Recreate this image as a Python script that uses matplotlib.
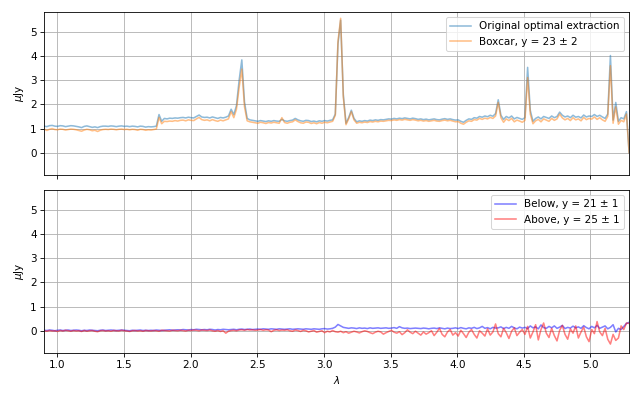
import matplotlib
matplotlib.use('Agg')
import matplotlib.pyplot as plt
import numpy as np

# wavelength sampling (micron), 220 samples across the plotted range
lam = np.linspace(0.90, 5.29, 220)

# top panel: optimal extraction vs boxcar (uJy)
optimal = [
    1.10, 1.08, 1.12, 1.13, 1.10, 1.09, 1.12, 1.11, 1.08, 1.10,
    1.12, 1.11, 1.09, 1.07, 1.04, 1.09, 1.11, 1.08, 1.05, 1.07,
    1.04, 1.08, 1.10, 1.10, 1.09, 1.11, 1.10, 1.08, 1.10, 1.11,
    1.09, 1.10, 1.08, 1.10, 1.09, 1.07, 1.10, 1.09, 1.06, 1.08,
    1.07, 1.08, 1.10, 1.58, 1.30, 1.42, 1.40, 1.43, 1.42, 1.44,
    1.43, 1.45, 1.46, 1.44, 1.47, 1.45, 1.44, 1.50, 1.56, 1.48,
    1.46, 1.47, 1.44, 1.48, 1.45, 1.42, 1.46, 1.44, 1.47, 1.52,
    1.80, 1.58, 1.95, 3.00, 3.84, 2.10, 1.42, 1.36, 1.34, 1.32,
    1.30, 1.33, 1.31, 1.29, 1.32, 1.30, 1.33, 1.31, 1.30, 1.38,
    1.32, 1.30, 1.33, 1.35, 1.42, 1.36, 1.32, 1.30, 1.34, 1.33,
    1.29, 1.31, 1.28, 1.32, 1.30, 1.33, 1.31, 1.34, 1.36, 1.60,
    4.50, 5.48, 2.40, 1.22, 1.45, 1.76, 1.42, 1.28, 1.32, 1.30,
    1.33, 1.31, 1.35, 1.33, 1.36, 1.34, 1.37, 1.36, 1.38, 1.40,
    1.39, 1.42, 1.40, 1.43, 1.41, 1.44, 1.42, 1.40, 1.43, 1.41,
    1.38, 1.40, 1.37, 1.39, 1.36, 1.38, 1.40, 1.37, 1.36, 1.39,
    1.41, 1.38, 1.40, 1.37, 1.35, 1.36, 1.30, 1.26, 1.34, 1.40,
    1.38, 1.45, 1.43, 1.50, 1.47, 1.52, 1.49, 1.55, 1.51, 1.62,
    2.19, 1.55, 1.38, 1.50, 1.44, 1.52, 1.40, 1.46, 1.42, 1.38,
    1.45, 3.53, 1.75, 1.30, 1.42, 1.48, 1.40, 1.50, 1.46, 1.42,
    1.52, 1.45, 1.50, 1.68, 1.55, 1.48, 1.52, 1.45, 1.55, 1.47,
    1.50, 1.44, 1.56, 1.48, 1.52, 1.50, 1.58, 1.50, 1.55, 1.48,
    1.42, 1.60, 4.02, 1.35, 2.08, 1.30, 1.45, 1.40, 1.70, 0.00,
]
boxcar = [
    0.98, 0.92, 0.97, 1.00, 0.96, 0.95, 0.98, 0.97, 0.94, 0.96,
    0.98, 0.97, 0.95, 0.92, 0.89, 0.94, 0.97, 0.95, 0.91, 0.93,
    0.88, 0.93, 0.96, 0.97, 0.96, 0.98, 0.97, 0.95, 0.97, 0.98,
    0.96, 0.97, 0.95, 0.97, 0.96, 0.93, 0.97, 0.96, 0.93, 0.95,
    0.94, 0.96, 0.98, 1.46, 1.20, 1.30, 1.29, 1.31, 1.30, 1.33,
    1.31, 1.34, 1.35, 1.32, 1.36, 1.34, 1.33, 1.40, 1.46, 1.37,
    1.34, 1.36, 1.32, 1.37, 1.33, 1.30, 1.35, 1.32, 1.36, 1.40,
    1.70, 1.45, 1.80, 2.70, 3.46, 1.90, 1.32, 1.28, 1.26, 1.24,
    1.22, 1.26, 1.24, 1.21, 1.25, 1.23, 1.26, 1.24, 1.22, 1.45,
    1.25, 1.22, 1.26, 1.28, 1.36, 1.29, 1.24, 1.22, 1.27, 1.26,
    1.21, 1.24, 1.20, 1.25, 1.22, 1.26, 1.24, 1.27, 1.30, 1.55,
    4.60, 5.56, 2.30, 1.16, 1.40, 1.70, 1.36, 1.22, 1.26, 1.24,
    1.27, 1.25, 1.29, 1.27, 1.30, 1.28, 1.31, 1.30, 1.32, 1.34,
    1.33, 1.36, 1.34, 1.37, 1.35, 1.38, 1.36, 1.34, 1.37, 1.35,
    1.32, 1.34, 1.31, 1.33, 1.30, 1.32, 1.34, 1.31, 1.30, 1.33,
    1.35, 1.32, 1.34, 1.31, 1.28, 1.29, 1.22, 1.18, 1.26, 1.32,
    1.30, 1.37, 1.35, 1.42, 1.38, 1.43, 1.40, 1.46, 1.42, 1.52,
    2.08, 1.45, 1.26, 1.40, 1.33, 1.42, 1.28, 1.35, 1.31, 1.26,
    1.34, 3.11, 1.60, 1.20, 1.32, 1.38, 1.28, 1.40, 1.35, 1.30,
    1.42, 1.34, 1.40, 1.60, 1.44, 1.36, 1.42, 1.33, 1.45, 1.36,
    1.40, 1.32, 1.46, 1.37, 1.42, 1.39, 1.48, 1.38, 1.45, 1.36,
    1.30, 1.50, 3.60, 1.22, 1.90, 1.18, 1.34, 1.28, 1.60, 0.00,
]

# bottom panel: off-trace boxcars (uJy)
below = [
    0.02, 0.01, 0.03, 0.02, 0.00, 0.02, 0.03, 0.01, 0.02, 0.03,
    0.01, 0.02, 0.03, 0.02, 0.00, 0.02, 0.01, 0.03, 0.02, 0.01,
    0.00, 0.02, 0.03, 0.01, 0.02, 0.03, 0.02, 0.01, 0.02, 0.03,
    0.02, 0.01, 0.00, 0.02, 0.01, 0.02, 0.03, 0.01, 0.02, 0.01,
    0.02, 0.01, 0.03, 0.02, 0.01, 0.02, 0.03, 0.04, 0.02, 0.03,
    0.04, 0.03, 0.05, 0.04, 0.03, 0.05, 0.04, 0.06, 0.05, 0.04,
    0.05, 0.04, 0.06, 0.05, 0.03, 0.05, 0.04, 0.06, 0.05, 0.04,
    0.05, 0.06, 0.04, 0.06, 0.07, 0.05, 0.06, 0.07, 0.05, 0.06,
    0.07, 0.06, 0.08, 0.07, 0.06, 0.08, 0.07, 0.06, 0.08, 0.07,
    0.06, 0.07, 0.08, 0.06, 0.07, 0.08, 0.07, 0.06, 0.08, 0.07,
    0.06, 0.08, 0.07, 0.06, 0.08, 0.09, 0.07, 0.08, 0.10, 0.15,
    0.26, 0.20, 0.14, 0.12, 0.10, 0.12, 0.11, 0.09, 0.12, 0.10,
    0.11, 0.09, 0.12, 0.10, 0.11, 0.12, 0.10, 0.11, 0.12, 0.10,
    0.11, 0.13, 0.10, 0.17, 0.12, 0.10, 0.11, 0.09, 0.10, 0.11,
    0.10, 0.09, 0.11, 0.10, 0.08, 0.10, 0.11, 0.09, 0.12, 0.10,
    0.08, 0.11, 0.09, 0.10, 0.12, 0.09, 0.13, 0.10, 0.08, 0.12,
    0.10, 0.14, 0.09, 0.12, 0.18, 0.10, 0.13, 0.08, 0.14, 0.11,
    0.12, 0.16, 0.09, 0.14, 0.10, 0.18, 0.12, 0.08, 0.15, 0.11,
    0.14, 0.09, 0.20, 0.12, 0.16, 0.08, 0.24, 0.13, 0.10, 0.18,
    0.12, 0.20, 0.10, 0.15, 0.22, 0.09, 0.14, 0.11, 0.19, 0.12,
    0.16, 0.10, 0.21, 0.13, 0.08, 0.18, 0.12, 0.22, 0.10, 0.15,
    0.20, 0.08, 0.14, 0.25, -0.05, 0.10, 0.05, 0.18, 0.30, 0.35,
]
above = [
    0.00, -0.02, 0.01, -0.01, 0.00, -0.03, 0.01, -0.01, 0.02, 0.00,
    -0.02, 0.01, -0.01, 0.00, -0.03, 0.01, -0.02, 0.00, 0.01, -0.02,
    -0.04, 0.00, 0.01, -0.01, 0.00, -0.02, 0.01, 0.00, -0.01, 0.02,
    0.00, -0.01, -0.03, 0.00, 0.01, -0.01, 0.00, -0.02, 0.01, 0.00,
    -0.01, 0.01, 0.00, -0.02, 0.02, 0.01, 0.00, -0.01, 0.02, 0.01,
    0.00, 0.02, 0.01, -0.01, 0.02, 0.01, 0.03, 0.02, 0.00, 0.03,
    0.02, 0.01, 0.03, 0.00, -0.02, 0.01, -0.03, 0.00, -0.10, -0.02,
    0.01, 0.02, 0.00, 0.03, 0.04, 0.02, 0.05, 0.03, 0.04, 0.02,
    0.03, 0.05, 0.02, 0.04, 0.03, -0.04, 0.02, 0.04, 0.01, 0.03,
    0.02, 0.04, 0.00, -0.02, 0.03, 0.01, -0.03, 0.02, 0.00, -0.05,
    -0.02, 0.01, -0.06, -0.03, 0.00, -0.08, -0.02, -0.05, 0.01, -0.04,
    -0.06, -0.02, -0.08, -0.04, -0.10, -0.06, -0.02, -0.05, -0.09, -0.04,
    0.00, -0.03, -0.08, -0.12, -0.06, -0.02, -0.05, -0.14, -0.08, -0.03,
    0.02, -0.06, -0.10, -0.04, -0.16, -0.08, 0.04, -0.06, -0.12, -0.02,
    -0.10, -0.18, -0.05, -0.14, -0.08, 0.00, -0.20, -0.06, 0.10, -0.15,
    -0.25, -0.05, 0.05, -0.18, -0.08, -0.22, 0.02, -0.12, -0.28, -0.06,
    0.05, -0.15, -0.30, 0.00, -0.10, -0.22, 0.08, -0.18, -0.05, 0.28,
    -0.12, -0.25, 0.10, -0.08, -0.32, -0.02, 0.12, -0.20, -0.06, 0.05,
    -0.15, 0.18, -0.30, -0.05, 0.25, -0.38, 0.05, 0.32, -0.10, -0.28,
    0.10, -0.20, -0.42, 0.02, 0.22, -0.15, -0.35, 0.08, -0.10, 0.20,
    -0.30, -0.05, 0.15, -0.25, -0.45, 0.05, -0.12, 0.38, -0.05, -0.20,
    0.10, -0.35, -0.55, -0.15, -0.40, -0.30, 0.20, 0.05, 0.32, 0.30,
]

fig, axes = plt.subplots(2, 1, figsize=(640 / 75, 400 / 75), dpi=75,
                         sharex=True, sharey=True)

ax = axes[0]
ax.plot(lam, optimal, color='C0', alpha=0.5, label='Original optimal extraction')
ax.plot(lam, boxcar, color='C1', alpha=0.5, label='Boxcar, y = 23 ± 2')
ax.legend(loc='upper right')
ax.set_ylabel(r'$\mu$Jy')
ax.grid()

ax = axes[1]
ax.plot(lam, below, color='b', alpha=0.5, label='Below, y = 21 ± 1')
ax.plot(lam, above, color='r', alpha=0.5, label='Above, y = 25 ± 1')
ax.legend(loc='upper right')
ax.set_ylabel(r'$\mu$Jy')
ax.set_xlabel(r'$\lambda$')
ax.grid()

ax.set_xlim(0.9, 5.29)
ax.set_ylim(-0.92, 5.82)

plt.subplots_adjust(left=0.069, right=0.983, top=0.97, bottom=0.1175, hspace=0.092)
plt.savefig('out.png', dpi=75)
